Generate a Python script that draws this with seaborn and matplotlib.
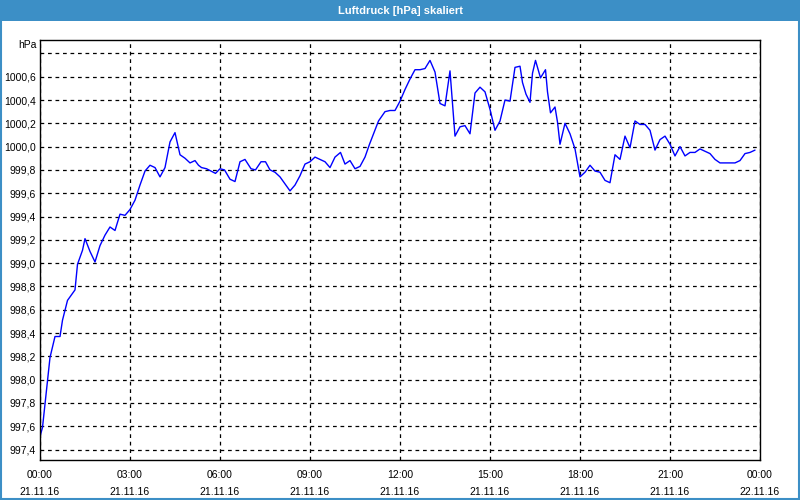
import matplotlib
matplotlib.use('Agg')
import matplotlib.pyplot as plt
import matplotlib.dates as mdates
from matplotlib.patches import Rectangle
import seaborn as sns
import pandas as pd

# minutes after 21.11.16 00:00 and pressure in hPa
minutes = [0, 5, 10, 15, 20, 30, 40, 45, 55, 70, 75, 85, 90, 100, 110, 120, 130, 140,
           150, 160, 170, 180, 190, 200, 210, 220, 230, 240, 250, 260, 270, 280, 290,
           300, 310, 317, 323, 333, 342, 351, 360, 369, 380, 390, 400, 410, 422, 431,
           442, 451, 460, 470, 480, 490, 500, 510, 520, 530, 540, 550, 560, 570, 580,
           590, 601, 610, 620, 630, 640, 650, 659, 667, 677, 690, 700, 710, 720, 730,
           740, 750, 760, 770, 780, 790, 800, 810, 820, 830, 840, 850, 860, 870, 880,
           890, 900, 910, 920, 930, 940, 950, 960, 965, 972, 980, 985, 991, 997, 1001,
           1011, 1015, 1021, 1030, 1035, 1040, 1050, 1060, 1070, 1080, 1090, 1100,
           1110, 1120, 1130, 1140, 1150, 1160, 1170, 1180, 1190, 1200, 1210, 1220,
           1230, 1240, 1250, 1260, 1270, 1280, 1290, 1300, 1310, 1320, 1330, 1340,
           1350, 1360, 1370, 1380, 1390, 1400, 1410, 1420, 1430]
pressure = [997.51, 997.59, 997.79, 997.99, 998.19, 998.37, 998.37, 998.51, 998.68,
            998.77, 998.99, 999.11, 999.21, 999.10, 999.01, 999.15, 999.24, 999.31,
            999.28, 999.42, 999.41, 999.46, 999.54, 999.67, 999.79, 999.84, 999.82,
            999.74, 999.82, 1000.04, 1000.12, 999.93, 999.90, 999.86, 999.88, 999.84,
            999.82, 999.81, 999.79, 999.77, 999.81, 999.80, 999.72, 999.70, 999.87,
            999.89, 999.81, 999.80, 999.87, 999.87, 999.80, 999.78, 999.74, 999.68,
            999.62, 999.67, 999.75, 999.85, 999.87, 999.91, 999.89, 999.87, 999.82,
            999.91, 999.95, 999.85, 999.88, 999.81, 999.83, 999.91, 1000.02, 1000.11,
            1000.22, 1000.30, 1000.31, 1000.31, 1000.39, 1000.49, 1000.58, 1000.66,
            1000.66, 1000.67, 1000.74, 1000.64, 1000.37, 1000.35, 1000.65, 1000.09,
            1000.17, 1000.18, 1000.11, 1000.46, 1000.51, 1000.47, 1000.32, 1000.14,
            1000.22, 1000.40, 1000.39, 1000.68, 1000.69, 1000.55, 1000.45, 1000.38,
            1000.63, 1000.74, 1000.65, 1000.59, 1000.66, 1000.47, 1000.29, 1000.34,
            1000.21, 1000.02, 1000.20, 1000.11, 999.98, 999.74, 999.78, 999.84,
            999.79, 999.78, 999.71, 999.69, 999.93, 999.89, 1000.09, 999.99, 1000.22,
            1000.19, 1000.19, 1000.14, 999.97, 1000.06, 1000.09, 1000.02, 999.92,
            1000.00, 999.92, 999.95, 999.95, 999.98, 999.96, 999.94, 999.89, 999.86,
            999.86, 999.86, 999.86, 999.88, 999.94, 999.95, 999.97]

start = pd.Timestamp('2016-11-21 00:00')
end = pd.Timestamp('2016-11-22 00:00')
y_ticks = [997.4, 997.6, 997.8, 998.0, 998.2, 998.4, 998.6, 998.8, 999.0, 999.2,
           999.4, 999.6, 999.8, 1000.0, 1000.2, 1000.4, 1000.6, 1000.8]
title = 'Luftdruck [hPa] skaliert'
unit = 'hPa'

df = pd.DataFrame({'time': start + pd.to_timedelta(minutes, unit='min'),
                   'hPa': pressure})

sns.set_style('white')
plt.rcParams['font.family'] = ['Liberation Sans', 'DejaVu Sans']

fig = plt.figure(figsize=(8, 5), dpi=100)
fig.patch.set_facecolor('white')
ax = fig.add_axes([0.05, 0.08, 0.9, 0.84])

sns.lineplot(data=df, x='time', y='hPa', color='#0000ff', linewidth=1, ax=ax)

ax.set_xlim(start, end)
ax.set_ylim(997.31, 1000.915)

ax.xaxis.set_major_locator(mdates.HourLocator(byhour=range(0, 24, 3)))
ax.xaxis.set_minor_locator(mdates.HourLocator())
ax.xaxis.set_major_formatter(mdates.DateFormatter('%H:%M\n%d.%m.%y'))
ax.set_yticks(y_ticks)
ax.set_yticklabels([f'{v:.1f}'.replace('.', ',') if v < 1000.7 else '' for v in y_ticks])

ax.grid(True, which='major', color='black', linestyle=(0, (3, 3)), linewidth=0.9)
ax.tick_params(axis='x', which='both', direction='out', length=4, width=0.8,
               colors='black', labelsize=7.5, pad=3)
ax.tick_params(axis='y', length=0, labelsize=7.5, pad=3, colors='black')
for lbl in ax.get_xticklabels():
    lbl.set_linespacing(1.9)
for s in ax.spines.values():
    s.set_color('black')
    s.set_linewidth(1)
ax.set_xlabel('')
ax.set_ylabel('')

ax.text(-0.005, 1.0, unit, transform=ax.transAxes, ha='right', va='top',
        fontsize=7.5, color='black')

# blue title bar and window frame
fig.patches.append(Rectangle((0, 1 - 21 / 500), 1, 21 / 500, transform=fig.transFigure,
                             facecolor='#3c8fc6', edgecolor='none', zorder=0))
fig.patches.append(Rectangle((0.001, 0.002), 0.998, 0.996, transform=fig.transFigure,
                             facecolor='none', edgecolor='#3c8fc6', linewidth=1.5))
fig.text(0.5, 1 - 10.5 / 500, title, ha='center', va='center', color='white',
         fontsize=8, fontweight='bold')

fig.savefig('out.png', dpi=100)
